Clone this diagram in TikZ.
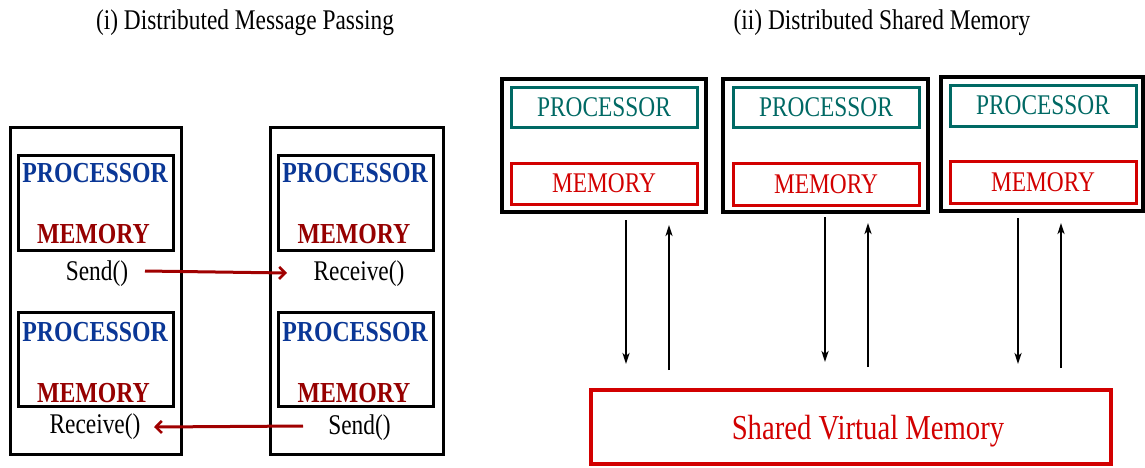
\documentclass[tikz,border=0pt]{standalone}
\usepackage{fontspec}
\setmainfont{Liberation Serif}[FakeStretch=0.82]
\usetikzlibrary{arrows.meta}
\definecolor{procblue}{RGB}{10,55,150}
\definecolor{memdark}{RGB}{150,0,0}
\definecolor{tealc}{RGB}{0,105,100}
\definecolor{redc}{RGB}{210,0,0}
\definecolor{arrred}{RGB}{160,0,0}
\tikzset{
  box/.style={draw=black, line width=3pt, inner sep=0pt},
  obox/.style={draw=black, line width=3.5pt, inner sep=0pt},
  pbox/.style={draw=tealc, line width=3pt, inner sep=0pt, text=tealc, font=\fontsize{28.5}{30}\selectfont},
  mbox/.style={draw=redc, line width=3pt, inner sep=0pt, text=redc, font=\fontsize{28.5}{30}\selectfont},
  bproc/.style={text=procblue, font=\fontsize{29}{30}\selectfont\bfseries, inner sep=0pt},
  bmem/.style={text=memdark, font=\fontsize{29}{30}\selectfont\bfseries, inner sep=0pt},
  call/.style={font=\fontsize{28.5}{30}\selectfont, inner sep=0pt, anchor=base},
  ttl/.style={font=\fontsize{28.5}{30}\selectfont, inner sep=0pt, anchor=base},
  msg/.style={draw=arrred, line width=3pt, -{Straight Barb[length=6pt,width=12pt,line width=2.6pt]}},
  vm/.style={draw=black, line width=2.2pt, -{Stealth[length=11pt,width=7pt,inset=3pt]}}
}
\begin{document}
\begin{tikzpicture}[x=1pt,y=-1pt]
\useasboundingbox[fill=white] (0,0) rectangle (1145,467);
% titles
\node[ttl] (t1) at (245,29) {(i) Distributed Message Passing};
\node[ttl] (t2) at (882,29) {(ii) Distributed Shared Memory};
% ---- left panel ----
\node[box, minimum width=171pt, minimum height=327pt] (A) at (96,290.5) {};
\node[box, minimum width=173pt, minimum height=327pt] (B) at (356.5,290.5) {};
\node[box, minimum width=155pt, minimum height=95pt] (ATL) at (95.5,202.5) {};
\node[box, minimum width=155pt, minimum height=94pt] (ABL) at (95.5,359) {};
\node[box, minimum width=155pt, minimum height=95pt] (BTL) at (355.5,202.5) {};
\node[box, minimum width=155pt, minimum height=94pt] (BBL) at (355.5,359) {};
\node[bproc] (p1) at (95,173.5) {PROCESSOR};
\node[bmem] (m1) at (93.5,234) {MEMORY};
\node[bproc] (p2) at (95,332) {PROCESSOR};
\node[bmem] (m2) at (93.5,393) {MEMORY};
\node[bproc] (p3) at (355,173.5) {PROCESSOR};
\node[bmem] (m3) at (354,234) {MEMORY};
\node[bproc] (p4) at (355,332) {PROCESSOR};
\node[bmem] (m4) at (354,393) {MEMORY};
\node[call] (s1) at (97,280) {Send()};
\node[call] (r1) at (359,280) {Receive()};
\node[call] (r2) at (95,433) {Receive()};
\node[call] (s2) at (359.5,434) {Send()};
\coordinate (s1e) at (145,271);
\coordinate (r1w) at (287,273);
\coordinate (s2w) at (303,426);
\coordinate (r2e) at (154,427);
\draw[msg] (s1e) -- (r1w);
\draw[msg] (s2w) -- (r2e);
% ---- right panel ----
\node[obox, minimum width=204pt, minimum height=133pt] (N1) at (604,145.5) {};
\node[obox, minimum width=205pt, minimum height=133pt] (N2) at (825.5,145.5) {};
\node[obox, minimum width=202pt, minimum height=134pt] (N3) at (1042,144) {};
\node[pbox, minimum width=186pt, minimum height=40pt] (P1) at (604,107) {PROCESSOR};
\node[mbox, minimum width=186pt, minimum height=41pt] (M1) at (604,183.5) {MEMORY};
\node[pbox, minimum width=186pt, minimum height=40pt] (P2) at (826,107) {PROCESSOR};
\node[mbox, minimum width=186pt, minimum height=42pt] (M2) at (826,184) {MEMORY};
\node[pbox, minimum width=186pt, minimum height=41pt] (P3) at (1043,105.5) {PROCESSOR};
\node[mbox, minimum width=186pt, minimum height=42pt] (M3) at (1043,182) {MEMORY};
\node[draw=redc, line width=3.2pt, minimum width=520pt, minimum height=74pt, inner sep=0pt] (SVM) at (851,427) {};
\node[text=redc, font=\fontsize{35}{36}\selectfont, inner sep=0pt, anchor=base] (SVMt) at (868,439) {Shared Virtual Memory};
% arrows
\coordinate (d1a) at (626,220); \coordinate (d1b) at (626,364);
\coordinate (u1a) at (669,370); \coordinate (u1b) at (669,225);
\coordinate (d2a) at (825,217); \coordinate (d2b) at (825,362);
\coordinate (u2a) at (868,367); \coordinate (u2b) at (868,223);
\coordinate (d3a) at (1018,218); \coordinate (d3b) at (1018,364);
\coordinate (u3a) at (1061,368); \coordinate (u3b) at (1061,223);
\draw[vm] (d1a) -- (d1b);
\draw[vm] (u1a) -- (u1b);
\draw[vm] (d2a) -- (d2b);
\draw[vm] (u2a) -- (u2b);
\draw[vm] (d3a) -- (d3b);
\draw[vm] (u3a) -- (u3b);
\end{tikzpicture}
\end{document}
